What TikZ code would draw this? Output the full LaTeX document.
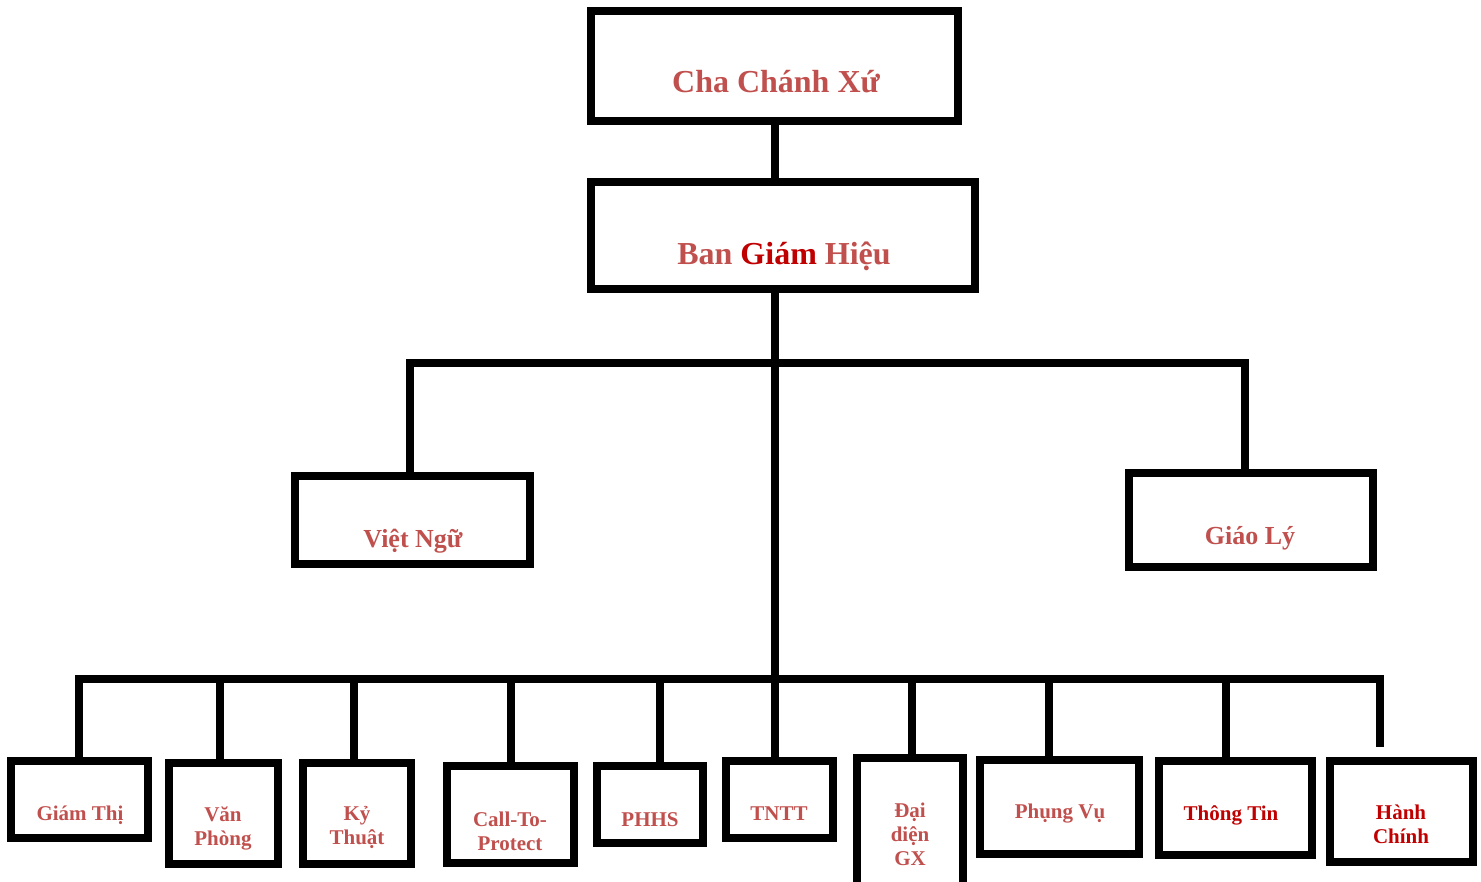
\documentclass[tikz,border=0pt]{standalone}
\usepackage{fontspec}
\setmainfont{Liberation Serif}
\usetikzlibrary{fit}
\definecolor{lred}{HTML}{C0504D}
\definecolor{dred}{HTML}{C00000}
\tikzset{
  box/.style={draw, rectangle, line width=3.8pt, inner sep=0pt},
  conn/.style={line width=3.8pt, line cap=rect},
  big/.style={font=\fontsize{16}{18}\selectfont\bfseries, text=lred, anchor=base},
  mid/.style={font=\fontsize{13}{15}\selectfont\bfseries, text=lred, anchor=base},
  small/.style={font=\fontsize{10.5}{12}\selectfont\bfseries, text=lred, align=center},
}
\begin{document}
\begin{tikzpicture}[x=0.5pt, y=-0.5pt]
  \useasboundingbox (0,0) rectangle (1481,882);
  % boxes
  \node[box, fit={(591,11) (958,121)}] (ccx) {};
  \node[box, fit={(591,182) (975,289)}] (bgh) {};
  \node[box, fit={(295,476) (530,564)}] (vn) {};
  \node[box, fit={(1129,473) (1373,567)}] (gl) {};
  \node[box, fit={(11,761) (148,838)}] (gt) {};
  \node[box, fit={(169,763) (278,864)}] (vp) {};
  \node[box, fit={(303,763) (411,864)}] (kt) {};
  \node[box, fit={(447,766) (574,863)}] (ctp) {};
  \node[box, fit={(597,766) (703,843)}] (phhs) {};
  \node[box, fit={(726,761) (833,838)}] (tntt) {};
  \node[box, fit={(857,758) (963,888)}] (ddgx) {};
  \node[box, fit={(980,760) (1139,854)}] (pv) {};
  \node[box, fit={(1159,761) (1312,855)}] (tt) {};
  \node[box, fit={(1330,761) (1473,862)}] (hc) {};
  % labels
  \node[big] (ccx-t) at (776,93) {Cha Chánh Xứ};
  \node[big] (bgh-t) at (784,264) {Ban {\color{dred}Giám} Hiệu};
  \node[mid] (vn-t) at (413,547) {Việt Ngữ};
  \node[mid] (gl-t) at (1250,544) {Giáo Lý};
  \node[small, anchor=base] (gt-t) at (80,820) {Giám Thị};
  \node[small] (vp-t) at (223,828) {Văn\\Phòng};
  \node[small] (kt-t) at (357,827) {Kỷ\\Thuật};
  \node[small] (ctp-t) at (510,831) {Call-To-\\Protect};
  \node[small, anchor=base] (phhs-t) at (650,826) {PHHS};
  \node[small, anchor=base] (tntt-t) at (779,820) {TNTT};
  \node[small] (ddgx-t) at (910,834) {Đại\\diện\\GX};
  \node[small, anchor=base] (pv-t) at (1060,818) {Phụng Vụ};
  \node[small, anchor=base, text=dred] (tt-t) at (1231,820) {Thông Tin};
  \node[small, text=dred] (hc-t) at (1401,824) {Hành\\Chính};
  % connectors
  \coordinate (mb) at (775,363);
  \coordinate (lb) at (775,679);
  \coordinate (mb-l) at (410,363);
  \coordinate (mb-r) at (1245,363);
  \coordinate (lb-l) at (79,679);
  \coordinate (lb-r) at (1380,679);
  \draw[conn] (ccx.south -| mb) -- (mb |- bgh.north);
  \draw[conn] (bgh.south -| mb) -- (lb |- tntt.north);
  \draw[conn] (mb-l |- vn.north) -- (mb-l) -- (mb-r) -- (mb-r |- gl.north);
  \draw[conn, shorten >=7pt] (lb-l |- gt.north) -- (lb-l) -- (lb-r) -- (lb-r |- hc.north);
  \foreach \n/\x in {vp/220, kt/354, ctp/511, phhs/660, ddgx/912, pv/1049, tt/1226} {
    \coordinate (d-\n) at (\x,679);
    \draw[conn] (d-\n) -- (d-\n |- \n.north);
  }
\end{tikzpicture}
\end{document}
